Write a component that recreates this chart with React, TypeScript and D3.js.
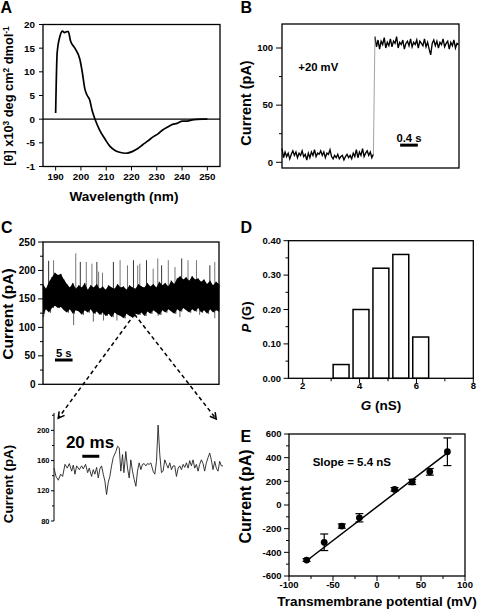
import React from 'react';
import * as d3 from 'd3';

// ---------- Panel A: CD spectrum ----------
const cdWavelength = [190, 190.6, 191.7, 192.7, 193.5, 194.5, 195, 195.9, 197.6, 199.6, 200.6, 201.5, 202.4, 203.5, 204.4, 205.5, 207.4, 209.5, 211.4, 213.5, 215.3, 217.9, 220.5, 222.5, 224.4, 226.5, 228.4, 230.5, 232.3, 234.5, 236.2, 238, 240.2, 242, 244.1, 246, 248, 250];
const cdTheta = [1.3, 14, 17.5, 18.6, 18.3, 18.5, 18.5, 16.5, 15, 12.6, 9.7, 6.5, 5.1, 4, 1.9, 0.1, -2.3, -4.2, -5.7, -6.6, -7, -7.2, -6.8, -6.2, -5.4, -4.6, -3.8, -3.1, -2.3, -1.6, -1.1, -0.9, -0.4, -0.4, -0.15, -0.05, 0, 0];
const aXTicks = [190, 200, 210, 220, 230, 240, 250];
const aYTicks = [20, 15, 10, 5, 0, -5, -10];
const aYTickLabels = ['20', '15', '10', '5', '0', '-5', '-1'];

// ---------- Panel B: single-channel step ----------
const bLowTrace = [12, 4, 9, 5, 8, 3, 7, 10, 6, 9, 4, 8, 6, 10, 5, 7, 2, 8, 4, 9, 6, 11, 5, 8, 7, 10, 6, 9, 4, 8, 7, 11, 5, 3, 6, 4, 7, 3, 5, 6, 2, 5, 7, 4, 6, 3, 8, 5, 11, 4, 9, 6, 12, 5, 8, 10, 6, 9, 4, 7];
const bHighTrace = [110, 101, 107, 99, 106, 103, 109, 100, 105, 102, 108, 101, 106, 104, 110, 100, 105, 103, 107, 99, 104, 106, 102, 108, 101, 105, 103, 107, 100, 106, 104, 102, 108, 101, 105, 99, 94, 104, 107, 102, 106, 100, 105, 103, 108, 101, 104, 106, 99, 105, 102, 107, 100, 104, 103];
const bSampleDt = 0.035; // s
const bHighStart = 2.1; // s
const bYTicks = [0, 50, 100];
const bYMinor = [25, 75];

// ---------- Panel C: long recording ----------
const cUpper = [176, 168, 180, 188, 196, 192, 194, 184, 176, 170, 178, 168, 174, 170, 178, 166, 174, 170, 176, 168, 172, 166, 174, 170, 168, 176, 170, 172, 166, 174, 170, 168, 176, 172, 170, 178, 172, 176, 170, 180, 174, 178, 172, 182, 176, 186, 190, 184, 188, 182, 190, 184, 186, 180, 184, 176, 182, 174, 180, 176];
const cLower = [124, 132, 126, 134, 138, 134, 136, 130, 126, 132, 124, 130, 128, 122, 130, 126, 132, 124, 128, 122, 126, 120, 124, 118, 126, 122, 120, 116, 124, 120, 118, 124, 122, 126, 120, 128, 124, 130, 126, 122, 130, 126, 132, 128, 124, 132, 128, 134, 130, 126, 132, 128, 134, 126, 130, 124, 132, 126, 130, 128];
const cUpSpikeT = [1.6, 3.0, 9.3, 10.6, 12.3, 13.9, 15.3, 15.8, 16.9, 20.0, 21.9, 24.0, 25.7, 26.9, 27.5, 29.4, 31.3, 32.6, 33.7, 35.6, 37.5, 39.4, 41.2, 43.6, 47.4, 48.8];
const cUpSpikeV = [217, 218, 230, 215, 215, 212, 215, 198, 196, 215, 218, 209, 218, 209, 212, 218, 203, 221, 209, 218, 206, 221, 218, 218, 209, 215];
const cDownSpikeT = [0.2, 8.7, 14.3, 17.2, 21.0, 32.7, 38.9, 44.5, 48.8];
const cDownSpikeV = [118, 104, 110, 112, 112, 120, 118, 122, 116];
const cYTicks = [0, 50, 100, 150, 200, 250];
const cYMinor = [25, 75, 125, 175, 225];

// ---------- Inset: expanded trace ----------
const insetTime = [0, 2.4, 5.1, 7.9, 10.2, 13.0, 15.7, 18.1, 20.9, 22.8, 24.8, 26.8, 29.9, 32.7, 34.6, 37.4, 39.8, 41.7, 44.5, 46.5, 48.4, 50.4, 52.4, 54.3, 56.3, 58.3, 60.2, 62.2, 64.2, 66.1, 68.1, 70.1, 73.2, 75.2, 77.2, 79.1, 81.1, 82.7, 85.0, 87.0, 89.0, 90.9, 92.9, 94.9, 96.9, 98.8, 100.8, 102.8, 104.7, 106.7, 108.7, 110.6, 112.6, 114.6, 117.3, 119.3, 121.3, 123.2, 125.2, 127.2, 129.1, 131.1, 133.1, 135.0, 137.0, 139.0, 140.9, 142.9, 144.9, 146.9, 148.8, 150.8, 152.8, 154.7, 156.7, 158.7, 160.6, 162.6, 164.6, 166.5, 168.5, 170.5, 172.4, 174.4, 176.4, 178.3, 180.3, 182.3, 184.3, 186.2, 188.2, 190.2, 192.1, 194.1, 196.1, 198.0, 200.0];
const insetCurrent = [150, 139, 134, 142, 139, 155, 150, 156, 146, 154, 142, 153, 148, 153, 149, 155, 144, 150, 139, 148, 142, 151, 137, 149, 153, 142, 133, 115, 131, 139, 153, 164, 172, 179, 177, 146, 168, 144, 172, 150, 137, 161, 146, 135, 126, 146, 157, 148, 155, 156, 153, 156, 155, 157, 146, 142, 159, 207, 168, 144, 146, 161, 155, 150, 157, 148, 153, 153, 139, 150, 153, 148, 155, 151, 157, 150, 160, 153, 161, 150, 155, 146, 155, 161, 156, 146, 157, 164, 170, 161, 148, 159, 150, 146, 159, 153, 153];
const insetMajor = [80, 120, 160, 200];
const insetMinor = [100, 140, 180, 220];

// ---------- Panel D: conductance histogram ----------
const gBinCenters = [3.35, 4.05, 4.75, 5.45, 6.15];
const pG = [0.04, 0.2, 0.32, 0.36, 0.12];
const gBarWidth = 0.56;
const dXTicks = [2, 4, 6, 8];
const dXMinor = [3, 5, 7];
const dYTicks = [0, 0.1, 0.2, 0.3, 0.4];
const dYMinor = [0.05, 0.15, 0.25, 0.35];

// ---------- Panel E: I-V ----------
const ivVoltage = [-80, -60, -40, -20, 20, 40, 60, 80];
const ivCurrent = [-465, -315, -178, -108, 132, 195, 280, 450];
const ivError = [12, 70, 18, 35, 15, 22, 28, 117];
const fitSlope = 5.7;
const fitIntercept = -15;
const fitRange = [-80, 80];
const eXTicks = [-100, -50, 0, 50, 100];
const eXMinor = [-75, -25, 25, 75];
const eYTicks = [-600, -400, -200, 0, 200, 400, 600];
const eYMinor = [-500, -300, -100, 100, 300, 500];

const FONT = '"Liberation Sans", Arial, Helvetica, sans-serif';

function yTicks(scale: any, x: number, values: number[], len: number, labels?: string[], fs = 9.5, pad = 3) {
  return values.map((v, i) => (
    <g key={'y' + v + '_' + i}>
      <line x1={x - len} x2={x} y1={scale(v)} y2={scale(v)} stroke="#000" strokeWidth={1} />
      {labels && (
        <text x={x - len - pad} y={scale(v)} dy="0.35em" textAnchor="end" fontSize={fs} fontWeight="bold" fill="#000">
          {labels[i]}
        </text>
      )}
    </g>
  ));
}

function xTicks(scale: any, y: number, values: number[], len: number, labels?: string[], fs = 9.5, off = 12.5) {
  return values.map((v, i) => (
    <g key={'x' + v + '_' + i}>
      <line x1={scale(v)} x2={scale(v)} y1={y} y2={y + len} stroke="#000" strokeWidth={1} />
      {labels && (
        <text x={scale(v)} y={y + off} textAnchor="middle" fontSize={fs} fontWeight="bold" fill="#000">
          {labels[i]}
        </text>
      )}
    </g>
  ));
}

function Frame({ x0, x1, y0, y1 }: any) {
  return <rect x={x0} y={y0} width={x1 - x0} height={y1 - y0} fill="none" stroke="#000" strokeWidth={1.3} />;
}

function RotLabel({ x, y, fs, children }: any) {
  return (
    <text transform={`translate(${x},${y}) rotate(-90)`} textAnchor="middle" fontSize={fs} fontWeight="bold" fill="#000">
      {children}
    </text>
  );
}

function arrowHead(x1: number, y1: number, x2: number, y2: number, size = 7) {
  const a = Math.atan2(y2 - y1, x2 - x1);
  const p1 = [x2 - size * Math.cos(a - 0.5), y2 - size * Math.sin(a - 0.5)];
  const p2 = [x2 - size * Math.cos(a + 0.5), y2 - size * Math.sin(a + 0.5)];
  return `M${p1[0]},${p1[1]}L${x2},${y2}L${p2[0]},${p2[1]}`;
}

export default function App() {
  // Panel A
  const xA = d3.scaleLinear().domain([185, 255]).range([43, 220]);
  const yA = d3.scaleLinear().domain([-10, 20]).range([166.5, 24.5]);
  const cdLine = d3.line<number>().x((d, i) => xA(cdWavelength[i])).y((d) => yA(d)).curve(d3.curveMonotoneX);

  // Panel B
  const xB = d3.scaleLinear().domain([0, 4]).range([282, 459]);
  const yB = d3.scaleLinear().domain([-5, 121]).range([168, 24]);
  const bLine = d3.line<[number, number]>().x((d) => xB(d[0])).y((d) => yB(d[1]));
  const lowPts: [number, number][] = bLowTrace.map((v, i) => [i * bSampleDt, v]);
  const highPts: [number, number][] = bHighTrace.map((v, i) => [bHighStart + i * bSampleDt, v]);
  const lowEnd = lowPts[lowPts.length - 1];
  const highBeg = highPts[0];

  // Panel C
  const xC = d3.scaleLinear().domain([0, 50]).range([43, 219]);
  const yC = d3.scaleLinear().domain([0, 250]).range([384.3, 242]);
  const cStep = 50 / (cUpper.length - 1);
  const cArea = d3
    .area<number>()
    .x((d, i) => xC(i * cStep))
    .y0((d, i) => yC(cLower[i]))
    .y1((d) => yC(d));
  const zig: [number, number][] = [];
  cUpper.forEach((u, i) => {
    zig.push([i * cStep, u]);
    zig.push([Math.min(50, i * cStep + cStep / 2), cLower[i]]);
  });
  const zigLine = d3.line<[number, number]>().x((d) => xC(d[0])).y((d) => yC(d[1]));

  // Inset
  const xIn = d3.scaleLinear().domain([0, 200]).range([54, 223]);
  const yIn = d3.scaleLinear().domain([80, 223]).range([521, 413]);
  const inLine = d3.line<number>().x((d, i) => xIn(insetTime[i])).y((d) => yIn(d));

  // Dashed zoom lines
  const apex = [xC(26), yC(123)];
  const leftEnd = [xIn(5), yIn(216)];
  const rightEnd = [xIn(192), yIn(215)];

  // Panel D
  const xD = d3.scaleLinear().domain([1.5, 8]).range([288.5, 473.3]);
  const yD = d3.scaleLinear().domain([0, 0.4]).range([378.3, 240.7]);

  // Panel E
  const xE = d3.scaleLinear().domain([-100, 100]).range([289, 465]);
  const yE = d3.scaleLinear().domain([-600, 600]).range([576, 434]);

  return (
    <svg
      width={477}
      height={615}
      style={{ position: 'absolute', left: 0, top: 0, background: '#fff' }}
      fontFamily={FONT}
    >
      <rect x={0} y={0} width={477} height={615} fill="#fff" />

      {/* ---------------- Panel A ---------------- */}
      <text x={0.5} y={13.3} fontSize={16} fontWeight="bold">A</text>
      <line x1={43} x2={220} y1={yA(0)} y2={yA(0)} stroke="#000" strokeWidth={1.2} />
      <path d={cdLine(cdTheta) || ''} fill="none" stroke="#000" strokeWidth={1.7} />
      <Frame x0={43} x1={220} y0={24.5} y1={166.5} />
      {yTicks(yA, 43, aYTicks, 4, aYTickLabels, 9.8, 4)}
      {xTicks(xA, 166.5, aXTicks, 4, aXTicks.map(String), 9.8, 13)}
      <RotLabel x={13.2} y={96} fs={12.8}>
        [θ] x10<tspan dy={-4.5} fontSize={8.3}>3</tspan>
        <tspan dy={4.5}> deg cm</tspan>
        <tspan dy={-4.5} fontSize={8.3}>2</tspan>
        <tspan dy={4.5}> dmol</tspan>
        <tspan dy={-4.5} fontSize={8.3}>-1</tspan>
      </RotLabel>
      <text x={124} y={201.3} fontSize={13.6} fontWeight="bold" textAnchor="middle">Wavelength (nm)</text>

      {/* ---------------- Panel B ---------------- */}
      <text x={240.5} y={13.3} fontSize={16} fontWeight="bold">B</text>
      <path d={bLine(lowPts) || ''} fill="none" stroke="#000" strokeWidth={1.35} />
      <path d={bLine(highPts) || ''} fill="none" stroke="#000" strokeWidth={1.35} />
      <line x1={xB(lowEnd[0])} y1={yB(lowEnd[1])} x2={xB(highBeg[0])} y2={yB(highBeg[1])} stroke="#999" strokeWidth={0.9} />
      <Frame x0={282} x1={459} y0={24} y1={168} />
      {yTicks(yB, 282, bYTicks, 6, bYTicks.map(String), 9.5, 3)}
      {yTicks(yB, 282, bYMinor, 3)}
      <RotLabel x={251} y={103} fs={14.5}>Current (pA)</RotLabel>
      <text x={298.3} y={70.7} fontSize={11.3} fontWeight="bold">+20 mV</text>
      <line x1={xB(2.67)} x2={xB(3.07)} y1={yB(15)} y2={yB(15)} stroke="#000" strokeWidth={3} />
      <text x={xB(2.87)} y={142.3} fontSize={11.3} fontWeight="bold" textAnchor="middle">0.4 s</text>

      {/* ---------------- Panel C ---------------- */}
      <text x={1} y={233.3} fontSize={16} fontWeight="bold">C</text>
      {cUpSpikeT.map((t, i) => (
        <line key={'us' + i} x1={xC(t)} x2={xC(t)} y1={yC(165)} y2={yC(cUpSpikeV[i])} stroke={i % 3 === 0 ? '#333' : '#777'} strokeWidth={1} />
      ))}
      {cDownSpikeT.map((t, i) => (
        <line key={'ds' + i} x1={xC(t)} x2={xC(t)} y1={yC(135)} y2={yC(cDownSpikeV[i])} stroke="#666" strokeWidth={1} />
      ))}
      <path d={zigLine(zig) || ''} fill="none" stroke="#555" strokeWidth={1} />
      <path d={cArea(cUpper) || ''} fill="#000" stroke="none" />
      <Frame x0={43} x1={219} y0={242} y1={384.3} />
      {yTicks(yC, 43, cYTicks, 5, cYTicks.map(String), 10, 2.5)}
      {yTicks(yC, 43, cYMinor, 3)}
      <RotLabel x={12.5} y={314} fs={15.5}>Current (pA)</RotLabel>
      <line x1={xC(3.4)} x2={xC(8.4)} y1={yC(42.7)} y2={yC(42.7)} stroke="#000" strokeWidth={3} />
      <text x={xC(5.9)} y={356.5} fontSize={11.3} fontWeight="bold" textAnchor="middle">5 s</text>

      {/* dashed zoom lines */}
      <line x1={apex[0]} y1={apex[1]} x2={leftEnd[0]} y2={leftEnd[1]} stroke="#000" strokeWidth={1.5} strokeDasharray="4,3" />
      <line x1={apex[0]} y1={apex[1]} x2={rightEnd[0]} y2={rightEnd[1]} stroke="#000" strokeWidth={1.5} strokeDasharray="4,3" />
      <path d={arrowHead(apex[0], apex[1], leftEnd[0], leftEnd[1])} fill="none" stroke="#000" strokeWidth={1.5} />
      <path d={arrowHead(apex[0], apex[1], rightEnd[0], rightEnd[1])} fill="none" stroke="#000" strokeWidth={1.5} />

      {/* ---------------- Inset ---------------- */}
      <line x1={54} x2={54} y1={413} y2={521} stroke="#000" strokeWidth={1} />
      {yTicks(yIn, 54, insetMajor, 3, insetMajor.map(String), 7.5, 1.5)}
      {yTicks(yIn, 54, insetMinor, 2)}
      <path d={inLine(insetCurrent) || ''} fill="none" stroke="#222" strokeWidth={0.9} />
      <RotLabel x={12.5} y={484} fs={13.3}>Current (pA)</RotLabel>
      <line x1={xIn(33.5)} x2={xIn(53.6)} y1={yIn(165.7)} y2={yIn(165.7)} stroke="#000" strokeWidth={3} />
      <text x={90} y={448.3} fontSize={17} fontWeight="bold" textAnchor="middle">20 ms</text>

      {/* ---------------- Panel D ---------------- */}
      <text x={240.5} y={233.3} fontSize={16} fontWeight="bold">D</text>
      {gBinCenters.map((c, i) => (
        <rect
          key={'bar' + i}
          x={xD(c - gBarWidth / 2)}
          y={yD(pG[i])}
          width={xD(c + gBarWidth / 2) - xD(c - gBarWidth / 2)}
          height={yD(0) - yD(pG[i])}
          fill="#fff"
          stroke="#000"
          strokeWidth={1.5}
        />
      ))}
      <Frame x0={288.5} x1={473.3} y0={240.7} y1={378.3} />
      {yTicks(yD, 288.5, dYTicks, 5, dYTicks.map((v) => d3.format('.2f')(v)), 9.5, 2.5)}
      {yTicks(yD, 288.5, dYMinor, 3)}
      {xTicks(xD, 378.3, dXTicks, 5, dXTicks.map(String), 9.5, 11)}
      {xTicks(xD, 378.3, dXMinor, 3)}
      <RotLabel x={251} y={317} fs={13}>
        <tspan fontStyle="italic">P</tspan> (G)
      </RotLabel>
      <text x={381} y={410} fontSize={13.5} fontWeight="bold" textAnchor="middle">
        <tspan fontStyle="italic">G</tspan> (nS)
      </text>

      {/* ---------------- Panel E ---------------- */}
      <text x={240.5} y={441.7} fontSize={16} fontWeight="bold">E</text>
      <line
        x1={xE(fitRange[0])}
        y1={yE(fitSlope * fitRange[0] + fitIntercept)}
        x2={xE(fitRange[1])}
        y2={yE(fitSlope * fitRange[1] + fitIntercept)}
        stroke="#000"
        strokeWidth={1.5}
      />
      {ivVoltage.map((v, i) => (
        <g key={'iv' + i}>
          <line x1={xE(v)} x2={xE(v)} y1={yE(ivCurrent[i] - ivError[i])} y2={yE(ivCurrent[i] + ivError[i])} stroke="#000" strokeWidth={1.2} />
          <line x1={xE(v) - 4} x2={xE(v) + 4} y1={yE(ivCurrent[i] - ivError[i])} y2={yE(ivCurrent[i] - ivError[i])} stroke="#000" strokeWidth={1.2} />
          <line x1={xE(v) - 4} x2={xE(v) + 4} y1={yE(ivCurrent[i] + ivError[i])} y2={yE(ivCurrent[i] + ivError[i])} stroke="#000" strokeWidth={1.2} />
          <circle cx={xE(v)} cy={yE(ivCurrent[i])} r={3.4} fill="#000" />
        </g>
      ))}
      <Frame x0={289} x1={465} y0={434} y1={576} />
      {yTicks(yE, 289, eYTicks, 5, eYTicks.map(String), 9.5, 2.5)}
      {yTicks(yE, 289, eYMinor, 3)}
      {xTicks(xE, 576, eXTicks, 5, eXTicks.map(String), 9.5, 12.3)}
      {xTicks(xE, 576, eXMinor, 3)}
      <RotLabel x={251} y={496.5} fs={16}>Current (pA)</RotLabel>
      <text x={312.7} y={465.7} fontSize={11.5} fontWeight="bold">Slope = 5.4 nS</text>
      <text x={377} y={606.4} fontSize={13.6} fontWeight="bold" textAnchor="middle">Transmembrane potential (mV)</text>
    </svg>
  );
}
